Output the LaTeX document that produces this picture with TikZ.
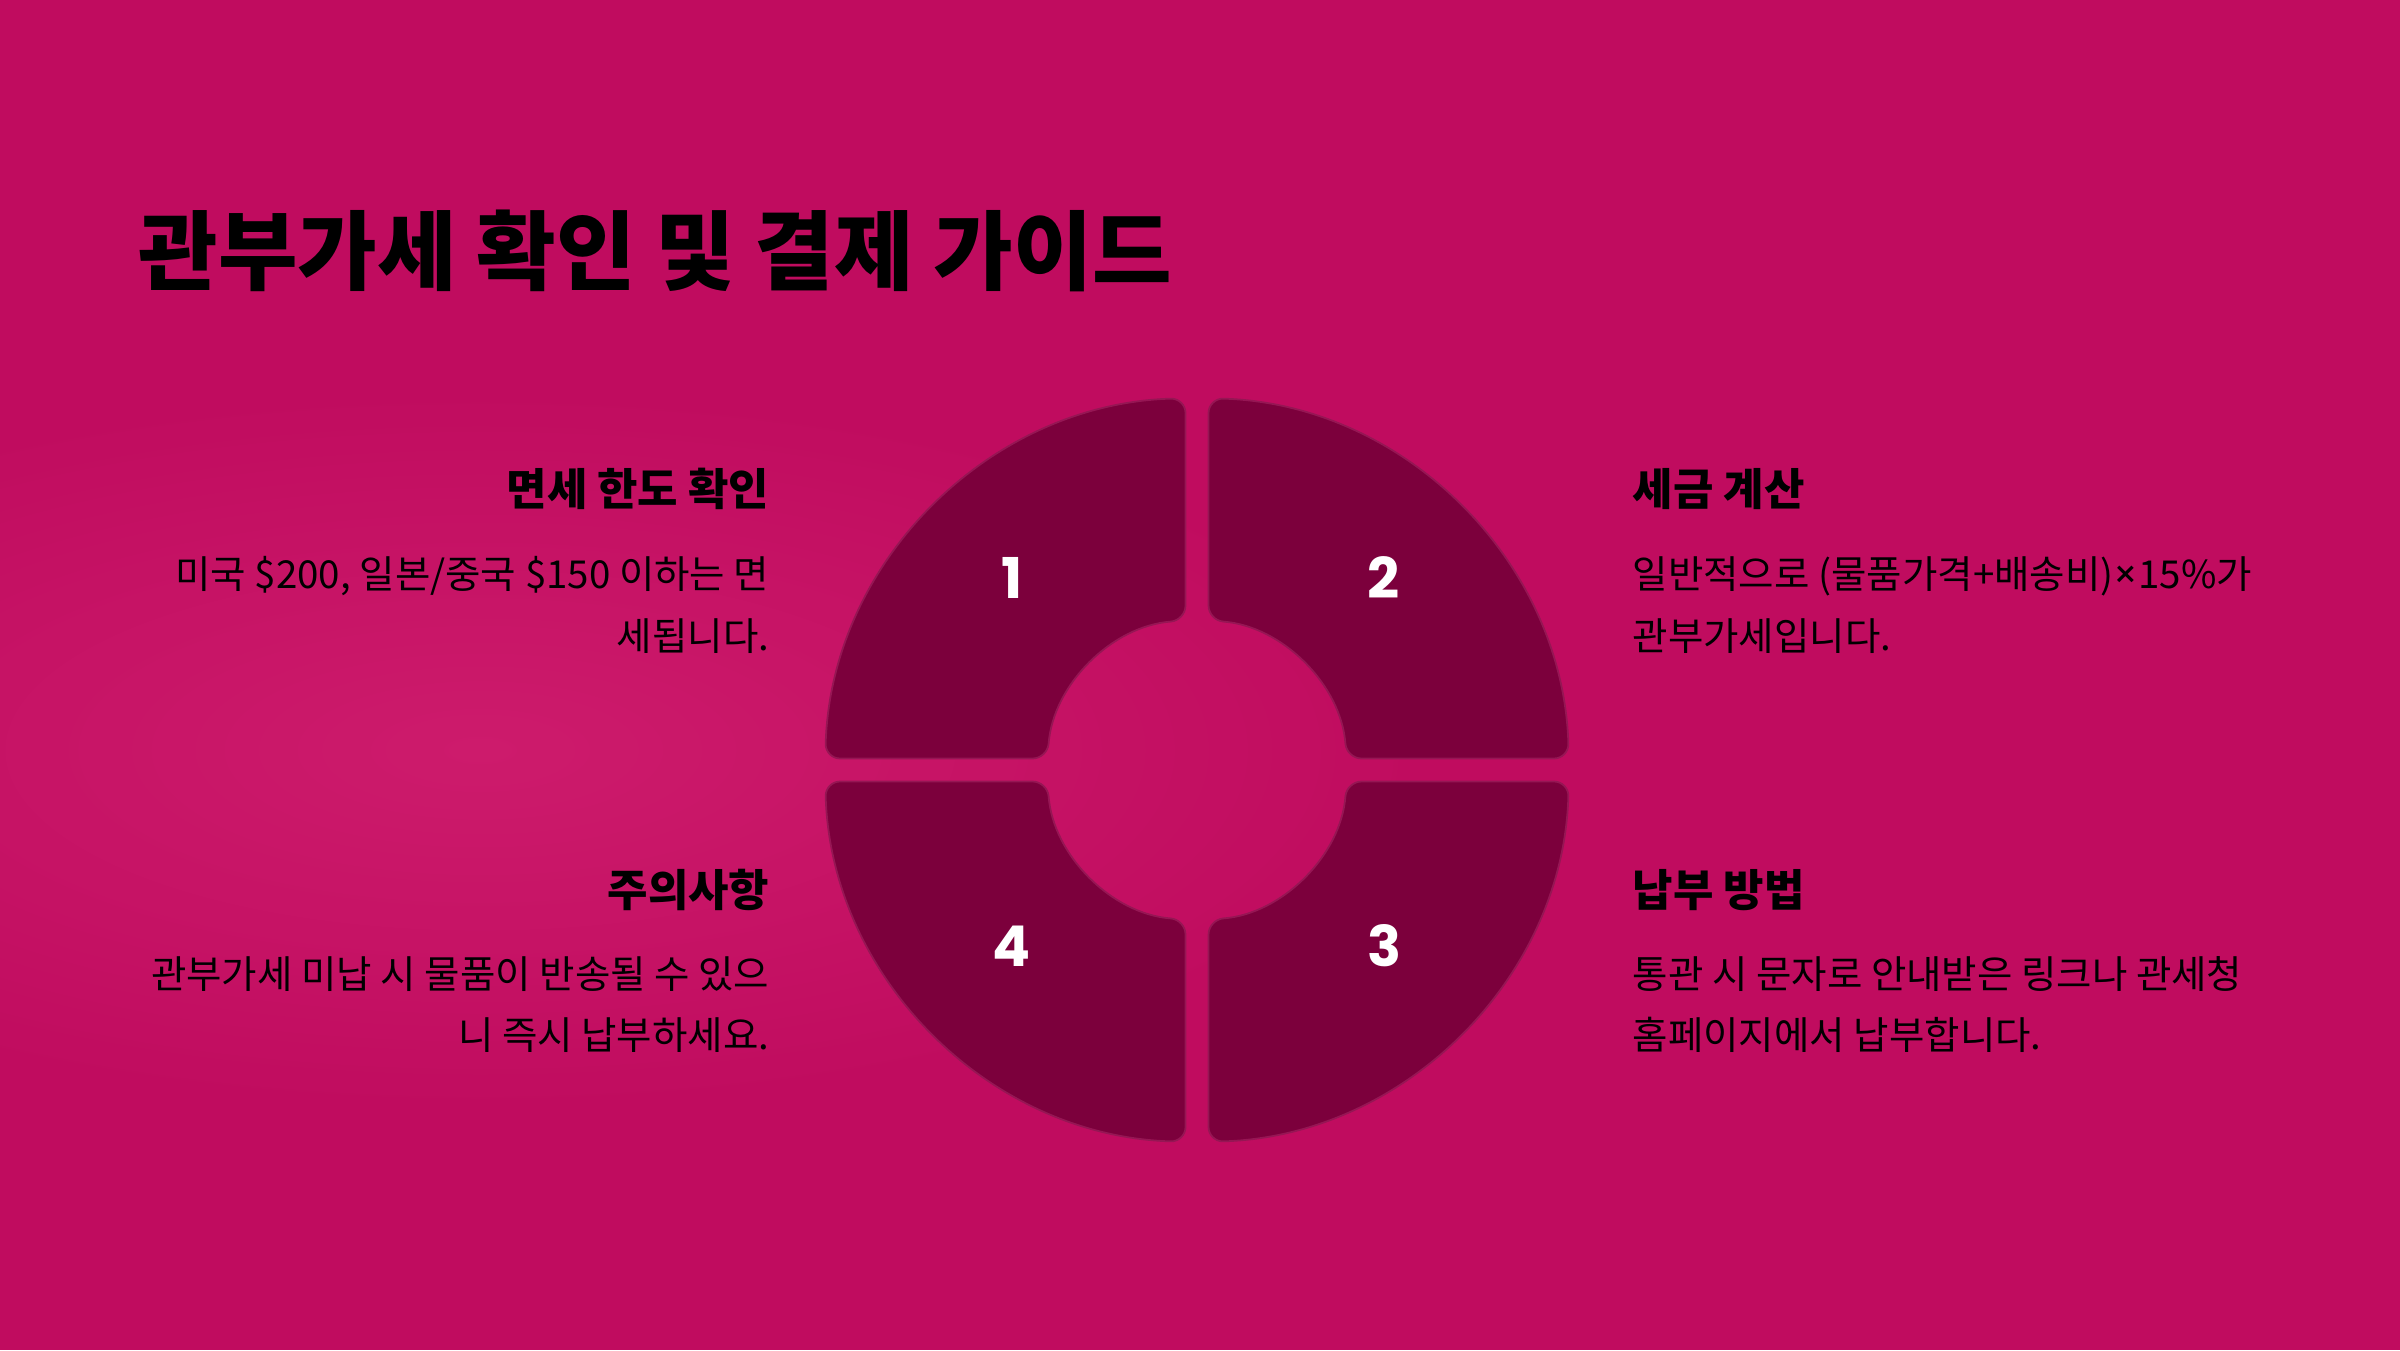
\documentclass[tikz,border=0pt]{standalone}
\usepackage{fontspec}
\setmainfont{Noto Sans CJK KR}
\newfontfamily\numfont{Poppins}
\definecolor{bgpink}{RGB}{192,12,95}
\definecolor{bglite}{RGB}{205,27,108}
\definecolor{ringfill}{RGB}{124,0,60}
\definecolor{ringedge}{RGB}{150,22,84}
\tikzset{
  titletext/.style={font=\bfseries\fontsize{24.6}{30}\selectfont,
    inner sep=0pt, text=black},
  headtext/.style={font=\bfseries\fontsize{12.5}{16}\selectfont,
    inner sep=0pt, text=black},
  bodytext/.style={font=\fontsize{10.95}{17.36}\selectfont,
    inner sep=0pt, text=black},
  numtext/.style={font=\numfont\bfseries\fontsize{16}{18}\selectfont,
    inner sep=0pt, text=white},
  piece/.style={fill=ringfill, draw=ringedge, line width=0.5pt,
    rounded corners=1.5mm}
}
\begin{document}
\begin{tikzpicture}
  \useasboundingbox (0,0) rectangle (24,13.5);
  \fill[bgpink] (0,0) rectangle (24,13.5);
  \shade[inner color=bglite, outer color=bgpink] (4.8,6.0) ellipse [x radius=9.5, y radius=3.6];

  \node[titletext, anchor=base west] (title) at (1.38,10.66) {관부가세 확인 및 결제 가이드};

  % ring of four pieces
  \coordinate (c) at (11.97,5.80);
  \foreach \rot in {0,90,180,270}
    \draw[piece, shift={(c)}, rotate=\rot] (0.115,2.607) -- (88.23:3.72)
      arc[start angle=88.23, end angle=1.77, radius=3.72] -- (4.40:1.5)
      arc[start angle=4.40, end angle=85.60, radius=1.5] -- cycle;
  \node[numtext] (n1) at ([shift={(-1.85,1.92)}]c) {1};
  \node[numtext] (n2) at ([shift={(1.87,1.92)}]c) {2};
  \node[numtext] (n3) at ([shift={(1.87,-1.76)}]c) {3};
  \node[numtext] (n4) at ([shift={(-1.85,-1.76)}]c) {4};

  \node[headtext, anchor=base east] (h1) at (7.70,8.45) {면세 한도 확인};
  \node[bodytext, align=right, anchor=base east] (b1) at (7.70,7.00)
    {미국 \$200, 일본/중국 \$150 이하는 면\\세됩니다.};
  \node[headtext, anchor=base west] (h2) at (16.32,8.45) {세금 계산};
  \node[bodytext, align=left, anchor=base west] (b2) at (16.32,7.00)
    {일반적으로 (물품가격+배송비){\numfont ×}15\%가\\관부가세입니다.};
  \node[headtext, anchor=base west] (h3) at (16.32,4.44) {납부 방법};
  \node[bodytext, align=left, anchor=base west] (b3) at (16.32,3.01)
    {통관 시 문자로 안내받은 링크나 관세청\\홈페이지에서 납부합니다.};
  \node[headtext, anchor=base east] (h4) at (7.70,4.44) {주의사항};
  \node[bodytext, align=right, anchor=base east] (b4) at (7.70,3.01)
    {관부가세 미납 시 물품이 반송될 수 있으\\니 즉시 납부하세요.};
\end{tikzpicture}
\end{document}
